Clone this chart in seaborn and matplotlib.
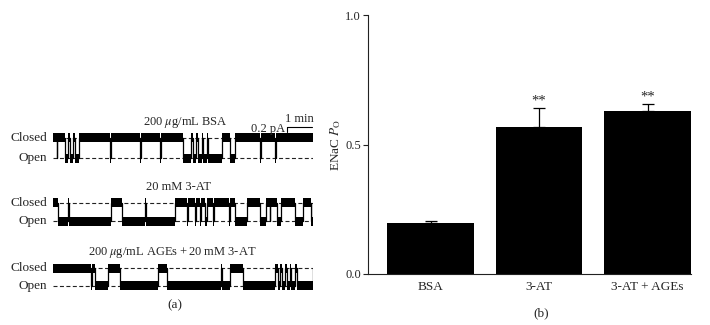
import matplotlib
matplotlib.use("Agg")
import matplotlib.pyplot as plt
import numpy as np
import seaborn as sns

# ---- panel (b): ENaC open probability ----
categories = ["BSA", "3-AT", "3-AT + AGEs"]
po_mean = [0.195, 0.567, 0.630]
po_err = [0.010, 0.073, 0.026]
po_sig = ["", "**", "**"]

# ---- panel (a): single-channel traces (minutes, open intervals) ----
trace_titles = [r"200 $\mu$g/mL BSA", "20 mM 3-AT",
                "200\u2009$\\mu$g/mL AGEs\u2009+\u200920\u2009mM 3-AT"]
trace_length = 10.4
bsa_open = [(0.14, 0.17), (0.48, 0.60), (0.68, 0.80), (0.88, 1.04),
            (2.28, 2.32), (3.48, 3.52), (4.28, 4.32),
            (5.20, 5.54), (5.60, 5.74), (5.80, 5.96), (6.02, 6.16), (6.20, 6.76),
            (7.08, 7.28), (8.28, 8.32), (8.88, 8.92)]
at_open = [(0.20, 0.58), (0.63, 2.32), (2.76, 3.66), (3.70, 4.88),
           (5.36, 5.40), (5.68, 5.72), (5.88, 5.92), (6.10, 6.18), (6.40, 6.44),
           (7.06, 7.10), (7.28, 7.76), (8.28, 8.52), (8.66, 8.70), (8.96, 9.12),
           (9.68, 10.00), (10.32, 10.40)]
ages_open = [(1.52, 1.56), (1.68, 2.20), (2.68, 4.20), (4.56, 6.74), (6.78, 7.08),
             (7.60, 8.88), (9.00, 9.08), (9.16, 9.28), (9.36, 9.48), (9.52, 9.68),
             (9.76, 10.40)]
trace_open = [bsa_open, at_open, ages_open]
open_level = [-0.82, -0.75, -0.70]  # pA, closed = 0

W, H = 710, 325


def px_axes(fig, left, top, width, height):
    return fig.add_axes([left / W, 1 - (top + height) / H, width / W, height / H])


def step_arrays(intervals, length, level):
    edges = [0.0]
    for a, b in intervals:
        edges += [a, b]
    edges.append(length)
    t = np.array(edges)
    y = np.zeros(len(t))
    for i in range(1, len(t) - 1, 2):
        y[i] = level
    y[-1] = y[-2]
    return t, y


sns.set_theme(style="ticks")
plt.rcParams["font.family"] = ["Liberation Serif", "DejaVu Serif"]
plt.rcParams["mathtext.fontset"] = "stix"

fig = plt.figure(figsize=(W / 100, H / 100), dpi=100)

closed_px = [137.7, 202.7, 268.0]
title_pos = [(185, 122), (178, 187), (172, 252)]
band = 0.18
fs = 9.5

for i in range(3):
    ax = px_axes(fig, 53, closed_px[i] - 10, 260, 40)
    t, y = step_arrays(trace_open[i], trace_length, open_level[i])
    ax.fill_between(t, y - band, y + band, step="post", color="black", linewidth=0)
    sns.lineplot(x=t, y=y, drawstyle="steps-post", color="black", linewidth=0.9,
                 estimator=None, sort=False, ax=ax)
    for lev in (0, open_level[i]):
        ax.axhline(lev, color="#222222", linewidth=0.8, dashes=(3.6, 2.2), zorder=0)
    ax.set_xlim(0, trace_length)
    ax.set_ylim(-1.2, 0.4)
    ax.axis("off")
    ax.text(-0.22, 0, "Closed", ha="right", va="center", fontsize=fs, clip_on=False)
    ax.text(-0.22, open_level[i], "Open", ha="right", va="center", fontsize=fs, clip_on=False)
    fig.text(title_pos[i][0] / W, 1 - title_pos[i][1] / H, trace_titles[i],
             ha="center", va="center", fontsize=9)
    if i == 0:
        # scale bar: 1 min, 0.2 pA
        ax.plot([9.36, 10.36], [0.43, 0.43], color="black", linewidth=0.8, clip_on=False)
        ax.plot([9.36, 9.36], [0.43, 0.23], color="black", linewidth=0.8, clip_on=False)
        ax.text(9.86, 0.50, "1 min", ha="center", va="bottom", fontsize=9, clip_on=False)
        ax.text(9.30, 0.33, "0.2 pA", ha="right", va="center", fontsize=9, clip_on=False)

fig.text(175 / W, 1 - 305 / H, "(a)", ha="center", va="center", fontsize=fs)

# ---- panel (b) ----
axb = px_axes(fig, 368, 15, 323, 259)
sns.barplot(x=categories, y=po_mean, color="black", saturation=1, width=0.8,
            linewidth=0, errorbar=None, ax=axb)
xpos = np.arange(len(categories))
axb.errorbar(xpos, po_mean, yerr=[np.zeros(len(po_err)), po_err], fmt="none",
             ecolor="black", elinewidth=0.9, capsize=4.3, capthick=0.9)
for x, m, e, s in zip(xpos, po_mean, po_err, po_sig):
    if s:
        axb.text(x, m + e + 0.028, s, ha="center", va="center", fontsize=10.5)
axb.set_xlim(-0.576, 2.40)
axb.set_ylim(0, 1.0)
axb.set_yticks([0, 0.5, 1.0])
axb.set_yticklabels(["0.0", "0.5", "1.0"])
axb.set_ylabel(r"ENaC $P_\mathrm{O}$", fontsize=fs)
axb.yaxis.set_label_coords(-0.077, 0.5)
axb.tick_params(axis="y", length=3.5, width=0.8, pad=1.5, labelsize=9, color="#222222")
axb.tick_params(axis="x", length=0, pad=5, labelsize=fs)
for side in ("top", "right"):
    axb.spines[side].set_visible(False)
for side in ("left", "bottom"):
    axb.spines[side].set_linewidth(0.8)
    axb.spines[side].set_color("#222222")
fig.text(541 / W, 1 - 313 / H, "(b)", ha="center", va="center", fontsize=fs)

fig.savefig("out.png", dpi=100)
